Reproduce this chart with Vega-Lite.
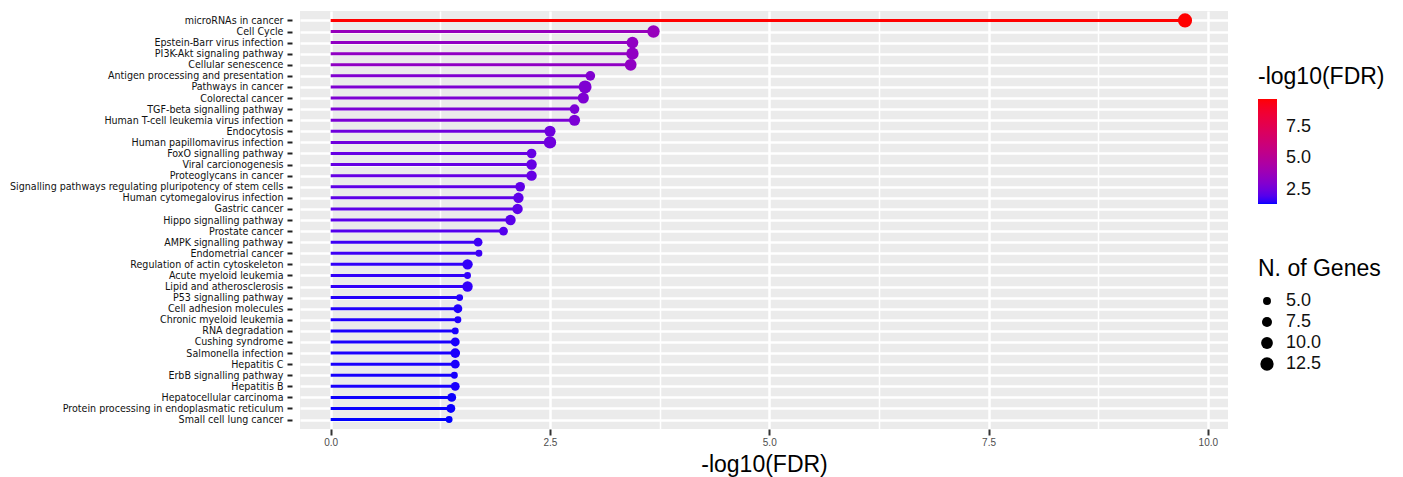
{
  "$schema": "https://vega.github.io/schema/vega-lite/v6.json",
  "width": 928,
  "height": 418,
  "padding": {"left": 9, "top": 11, "right": 5, "bottom": 2},
  "background": "white",
  "config": {
    "view": {"fill": "#EBEBEB", "stroke": null},
    "font": "Liberation Sans"
  },
  "data": {
    "values": [
      {"term": "microRNAs in cancer", "fdr": 9.74, "genes": 14},
      {"term": "Cell Cycle", "fdr": 3.68, "genes": 11},
      {"term": "Epstein-Barr virus infection", "fdr": 3.44, "genes": 10},
      {"term": "PI3K-Akt signaling pathway", "fdr": 3.44, "genes": 11},
      {"term": "Cellular senescence", "fdr": 3.42, "genes": 10},
      {"term": "Antigen processing and presentation", "fdr": 2.96, "genes": 7},
      {"term": "Pathways in cancer", "fdr": 2.9, "genes": 12},
      {"term": "Colorectal cancer", "fdr": 2.88, "genes": 9},
      {"term": "TGF-beta signalling pathway", "fdr": 2.78, "genes": 7},
      {"term": "Human T-cell leukemia virus infection", "fdr": 2.78, "genes": 9},
      {"term": "Endocytosis", "fdr": 2.5, "genes": 9},
      {"term": "Human papillomavirus infection", "fdr": 2.5, "genes": 11},
      {"term": "FoxO signalling pathway", "fdr": 2.29, "genes": 7},
      {"term": "Viral carcionogenesis", "fdr": 2.29, "genes": 8},
      {"term": "Proteoglycans in cancer", "fdr": 2.29, "genes": 8},
      {"term": "Signalling pathways regulating pluripotency of stem cells", "fdr": 2.16, "genes": 7},
      {"term": "Human cytomegalovirus infection", "fdr": 2.14, "genes": 8},
      {"term": "Gastric cancer", "fdr": 2.13, "genes": 8},
      {"term": "Hippo signalling pathway", "fdr": 2.05, "genes": 8},
      {"term": "Prostate cancer", "fdr": 1.97, "genes": 6},
      {"term": "AMPK signalling pathway", "fdr": 1.68, "genes": 6},
      {"term": "Endometrial cancer", "fdr": 1.69, "genes": 4},
      {"term": "Regulation of actin cytoskeleton", "fdr": 1.56, "genes": 8},
      {"term": "Acute myeloid leukemia", "fdr": 1.56, "genes": 4},
      {"term": "Lipid and atherosclerosis", "fdr": 1.56, "genes": 8},
      {"term": "P53  signalling pathway", "fdr": 1.47, "genes": 4},
      {"term": "Cell adhesion molecules", "fdr": 1.45, "genes": 6},
      {"term": "Chronic myeloid leukemia", "fdr": 1.45, "genes": 4},
      {"term": "RNA degradation", "fdr": 1.42, "genes": 4},
      {"term": "Cushing syndrome", "fdr": 1.42, "genes": 6},
      {"term": "Salmonella infection", "fdr": 1.42, "genes": 7},
      {"term": "Hepatitis C", "fdr": 1.42, "genes": 6},
      {"term": "ErbB  signalling pathway", "fdr": 1.41, "genes": 4},
      {"term": "Hepatitis B", "fdr": 1.42, "genes": 6},
      {"term": "Hepatocellular carcinoma", "fdr": 1.38, "genes": 6},
      {"term": "Protein processing in endoplasmatic reticulum", "fdr": 1.37, "genes": 6},
      {"term": "Small cell lung cancer", "fdr": 1.35, "genes": 4}
    ]
  },
  "encoding": {
    "y": {
      "field": "term",
      "type": "nominal",
      "sort": null,
      "scale": {"type": "point", "padding": 0.85},
      "axis": {
        "title": null,
        "labelFont": "Liberation Sans Narrow, DejaVu Sans Condensed, sans-serif",
        "labelFontSize": 10.6,
        "labelColor": "#111111",
        "labelPadding": 4,
        "tickSize": 5,
        "tickWidth": 2,
        "tickColor": "#222222",
        "offset": 8,
        "domain": false,
        "grid": true,
        "gridColor": "white",
        "gridWidth": 2.5,
        "labelLimit": 400
      }
    }
  },
  "layer": [
    {
      "mark": {"type": "rule", "strokeWidth": 0},
      "encoding": {
        "x": {
          "field": "fdr",
          "type": "quantitative",
          "scale": {"domain": [-0.35, 10.23], "nice": false, "zero": false},
          "axis": {
            "orient": "bottom",
            "values": [1.25, 3.75, 6.25, 8.75],
            "labels": false,
            "ticks": false,
            "domain": false,
            "title": null,
            "grid": true,
            "gridColor": "white",
            "gridWidth": 1.5
          }
        }
      }
    },
    {
      "mark": {"type": "rule", "strokeWidth": 3},
      "encoding": {
        "x": {
          "field": "fdr",
          "type": "quantitative",
          "title": "-log10(FDR)",
          "axis": {
            "orient": "bottom",
            "values": [0, 2.5, 5, 7.5, 10],
            "format": ".1f",
            "labelFontSize": 10,
            "labelColor": "#4D4D4D",
            "labelFont": "Liberation Sans Narrow, sans-serif",
            "tickSize": 6,
            "tickWidth": 2,
            "tickColor": "#333333",
            "domain": false,
            "grid": true,
            "gridColor": "white",
            "gridWidth": 2.5,
            "titleFontSize": 23,
            "titleFontWeight": "normal",
            "titleColor": "#000000",
            "titlePadding": 6
          }
        },
        "x2": {"datum": 0},
        "color": {
          "field": "fdr",
          "type": "quantitative",
          "title": "-log10(FDR)",
          "scale": {"range": ["#0000FF", "#FF0000"], "interpolate": "lab"},
          "legend": {
            "type": "gradient",
            "orient": "none",
            "legendX": 958,
            "legendY": 55,
            "direction": "vertical",
            "values": [2.5, 5, 7.5],
            "format": ".1f",
            "gradientLength": 105,
            "gradientThickness": 19,
            "gradientStrokeWidth": 0,
            "titleFontSize": 23,
            "titleFontWeight": "normal",
            "titleColor": "#000000",
            "titlePadding": 10,
            "labelFontSize": 18,
            "labelColor": "#111111",
            "labelOffset": 9
          }
        }
      }
    },
    {
      "mark": {"type": "circle", "opacity": 1, "filled": true},
      "encoding": {
        "x": {"field": "fdr", "type": "quantitative", "axis": null},
        "fill": {
          "field": "fdr",
          "type": "quantitative",
          "scale": {"range": ["#0000FF", "#FF0000"], "interpolate": "lab"},
          "legend": null
        },
        "size": {
          "field": "genes",
          "type": "quantitative",
          "title": "N. of Genes",
          "scale": {"domain": [4, 14], "range": [48, 200], "zero": false},
          "legend": {
            "orient": "none",
            "legendX": 958,
            "legendY": 247,
            "values": [5, 7.5, 10, 12.5],
            "format": ".1f",
            "symbolFillColor": "#000000",
            "symbolStrokeWidth": 0,
            "titleFontSize": 23,
            "titleFontWeight": "normal",
            "titleColor": "#000000",
            "titlePadding": 11,
            "labelFontSize": 18,
            "labelColor": "#111111",
            "labelOffset": 10,
            "rowPadding": 3
          }
        }
      }
    }
  ],
  "resolve": {"axis": {"x": "independent"}}
}
